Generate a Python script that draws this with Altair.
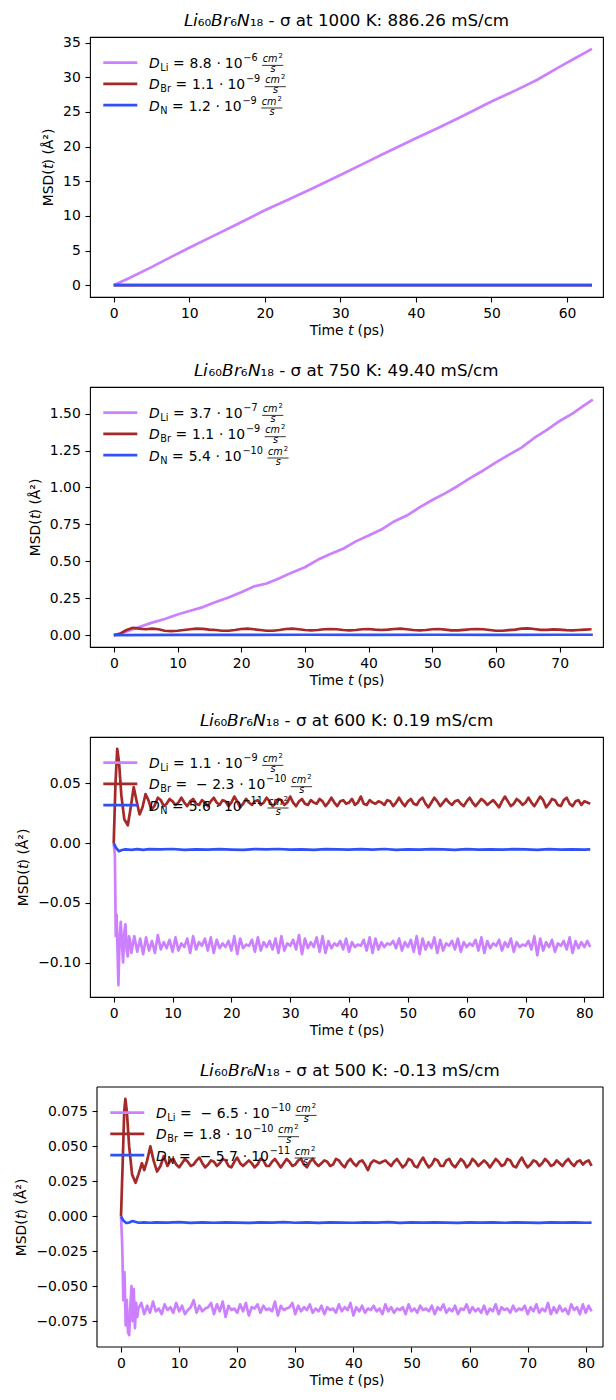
import altair as alt
import pandas as pd

FONT = "DejaVu Sans"
SPECIES = ["Li", "Br", "N"]
COLORS = {"Li": "#CC80FF", "Br": "#A62929", "N": "#3050F8"}
STEP = 0.5

# ---------------- Panel 1 : 1000 K ----------------
P1_TITLE = "𝘓𝘪₆₀𝘉𝘳₆𝘕₁₈ - σ at 1000 K: 886.26 mS/cm"
P1_T_LI = [0, 2, 5, 8, 10, 13, 16, 20, 23, 26, 30, 33, 36, 40, 43, 46, 50, 53, 56, 59, 61, 63.3]
P1_LI = [0, 1.0, 2.6, 4.3, 5.4, 7.0, 8.6, 10.8, 12.3, 13.8, 15.9, 17.5, 19.1, 21.2, 22.7, 24.3,
         26.5, 28.0, 29.6, 31.5, 32.7, 34.1]
P1_T_FLAT = [0, 10, 20, 30, 40, 50, 60, 63.3]
P1_BR = [0, 0.01, 0.01, 0.02, 0.01, 0.02, 0.02, 0.02]
P1_N = [0, 0.01, 0.01, 0.01, 0.01, 0.01, 0.02, 0.02]
P1_MANT = ["8.8", "1.1", "1.2"]
P1_EXP = ["−6", "−9", "−9"]

# ---------------- Panel 2 : 750 K ----------------
P2_TITLE = "𝘓𝘪₆₀𝘉𝘳₆𝘕₁₈ - σ at 750 K: 49.40 mS/cm"
P2_T_LI = [0, 2, 4, 6, 8, 10, 12, 14, 16, 18, 20, 22, 24, 26, 28, 30, 32, 34, 36, 38, 40, 42, 44,
           46, 48, 50, 52, 54, 56, 58, 60, 62, 64, 66, 68, 70, 72, 74, 75.2]
P2_LI = [0, 0.025, 0.055, 0.085, 0.11, 0.14, 0.165, 0.19, 0.225, 0.255, 0.29, 0.33, 0.35, 0.385,
         0.425, 0.46, 0.51, 0.55, 0.585, 0.635, 0.675, 0.715, 0.77, 0.81, 0.865, 0.915, 0.96, 1.01,
         1.065, 1.115, 1.17, 1.22, 1.27, 1.335, 1.39, 1.45, 1.5, 1.56, 1.595]
P2_BR_START = 0
P2_BR_STEP = 1
P2_BR = [0, 0.01, 0.035, 0.05, 0.045, 0.04, 0.045, 0.04, 0.03, 0.028,
         0.03, 0.035, 0.04, 0.045, 0.043, 0.038, 0.035, 0.03, 0.03, 0.035,
         0.042, 0.045, 0.04, 0.035, 0.03, 0.03, 0.035, 0.042, 0.045, 0.04,
         0.035, 0.033, 0.035, 0.04, 0.042, 0.04, 0.035, 0.033, 0.035, 0.04,
         0.042, 0.038, 0.035, 0.038, 0.042, 0.044, 0.04, 0.035, 0.033, 0.035,
         0.04, 0.042, 0.038, 0.033, 0.032, 0.036, 0.04, 0.042, 0.04, 0.035,
         0.03, 0.03, 0.034, 0.038, 0.044, 0.046, 0.042, 0.036, 0.036, 0.039,
         0.038, 0.034, 0.032, 0.035, 0.038, 0.04]
P2_T_N = [0, 10, 20, 30, 40, 50, 60, 70, 75.2]
P2_N = [0, 0.002, 0.002, 0.003, 0.002, 0.003, 0.002, 0.003, 0.003]
P2_MANT = ["3.7", "1.1", "5.4"]
P2_EXP = ["−7", "−9", "−10"]

# ---------------- Panel 3 : 600 K ----------------
P3_TITLE = "𝘓𝘪₆₀𝘉𝘳₆𝘕₁₈ - σ at 600 K: 0.19 mS/cm"
P3_LI_EARLY_T = [0, 0.2, 0.35, 0.5, 0.65, 0.8, 1.0, 1.2, 1.4, 1.6, 1.8, 2.0, 2.2, 2.4, 2.6, 2.8, 3.0]
P3_LI_EARLY = [0, -0.01, -0.078, -0.06, -0.09, -0.119, -0.08, -0.066, -0.085, -0.1, -0.075,
               -0.068, -0.09, -0.095, -0.078, -0.082, -0.092]
P3_LI_TAIL_START = 3.5
P3_LI_TAIL = [
    -0.078, -0.091, -0.08, -0.093, -0.079, -0.09, -0.082, -0.092, -0.077, -0.089,
    -0.083, -0.088, -0.081, -0.091, -0.079, -0.09, -0.084, -0.087, -0.08, -0.092,
    -0.078, -0.089, -0.083, -0.086, -0.08, -0.09, -0.079, -0.092, -0.081, -0.088,
    -0.084, -0.087, -0.082, -0.09, -0.078, -0.093, -0.08, -0.088, -0.085, -0.086,
    -0.081, -0.091, -0.079, -0.09, -0.083, -0.087, -0.082, -0.089, -0.08, -0.092,
    -0.078, -0.09, -0.084, -0.086, -0.081, -0.089, -0.077, -0.093, -0.08, -0.088,
    -0.083, -0.087, -0.079, -0.091, -0.078, -0.092, -0.082, -0.088, -0.084, -0.086,
    -0.082, -0.089, -0.08, -0.091, -0.083, -0.087, -0.085, -0.086, -0.081, -0.09,
    -0.079, -0.092, -0.08, -0.089, -0.083, -0.087, -0.084, -0.085, -0.082, -0.088,
    -0.08, -0.09, -0.083, -0.087, -0.081, -0.091, -0.078, -0.093, -0.08, -0.089,
    -0.083, -0.088, -0.079, -0.092, -0.081, -0.09, -0.084, -0.086, -0.082, -0.089,
    -0.08, -0.091, -0.083, -0.087, -0.084, -0.086, -0.081, -0.09, -0.079, -0.092,
    -0.082, -0.088, -0.084, -0.086, -0.081, -0.09, -0.083, -0.087, -0.08, -0.091,
    -0.083, -0.087, -0.085, -0.086, -0.082, -0.089, -0.078, -0.094, -0.08, -0.09,
    -0.083, -0.087, -0.081, -0.091, -0.084, -0.086, -0.082, -0.089, -0.079, -0.092,
    -0.082, -0.088, -0.083, -0.087, -0.082, -0.087]
P3_BR_EARLY_T = [0, 0.3, 0.6, 0.9, 1.3, 1.8, 2.4, 2.9, 3.4, 3.9, 4.4, 4.9, 5.4, 5.9, 6.4, 6.9]
P3_BR_EARLY = [0, 0.05, 0.079, 0.068, 0.04, 0.02, 0.015, 0.03, 0.047, 0.035, 0.024, 0.03,
               0.041, 0.036, 0.028, 0.031]
P3_BR_TAIL_START = 7.5
P3_BR_TAIL = [
    0.038, 0.036, 0.031, 0.033, 0.037, 0.035, 0.032, 0.034, 0.038, 0.034,
    0.031, 0.035, 0.037, 0.033, 0.032, 0.036, 0.034, 0.031, 0.035, 0.038,
    0.034, 0.032, 0.036, 0.035, 0.031, 0.034, 0.039, 0.035, 0.03, 0.033,
    0.037, 0.034, 0.032, 0.035, 0.036, 0.032, 0.034, 0.038, 0.035, 0.031,
    0.033, 0.037, 0.036, 0.032, 0.034, 0.039, 0.034, 0.031, 0.035, 0.037,
    0.033, 0.032, 0.036, 0.034, 0.033, 0.037, 0.035, 0.031, 0.034, 0.038,
    0.034, 0.031, 0.035, 0.036, 0.033, 0.034, 0.037, 0.032, 0.034, 0.039,
    0.033, 0.032, 0.036, 0.034, 0.033, 0.035, 0.034, 0.032, 0.036, 0.035,
    0.031, 0.034, 0.038, 0.034, 0.031, 0.035, 0.037, 0.033, 0.032, 0.036,
    0.038, 0.033, 0.03, 0.034, 0.038, 0.035, 0.031, 0.034, 0.037, 0.034,
    0.032, 0.035, 0.036, 0.033, 0.031, 0.035, 0.038, 0.034, 0.031, 0.034,
    0.037, 0.035, 0.032, 0.034, 0.036, 0.033, 0.03, 0.035, 0.039, 0.035,
    0.031, 0.033, 0.037, 0.035, 0.032, 0.034, 0.038, 0.034, 0.031, 0.035,
    0.039, 0.036, 0.03, 0.033, 0.037, 0.036, 0.032, 0.031, 0.036, 0.038,
    0.033, 0.031, 0.035, 0.036, 0.032, 0.035, 0.034, 0.033]
P3_T_N = [0, 0.4, 0.9, 1.4, 2, 3, 4, 5, 6, 8, 10, 12, 14, 16, 18, 20, 22, 24, 26, 28, 30, 32, 34,
          36, 38, 40, 42, 44, 46, 48, 50, 52, 54, 56, 58, 60, 62, 64, 66, 68, 70, 72, 74, 76, 78,
          80, 81]
P3_N = [0, -0.004, -0.0068, -0.0058, -0.0052, -0.0056, -0.005, -0.0057, -0.0051,
        -0.0053, -0.0049, -0.0056, -0.0052, -0.0055, -0.005, -0.0054, -0.0057, -0.0051, -0.0053,
        -0.0049, -0.0055, -0.0052, -0.0056, -0.005, -0.0053, -0.0055, -0.0051, -0.0054, -0.0049,
        -0.0056, -0.0052, -0.0054, -0.005, -0.0053, -0.0056, -0.0051, -0.0054, -0.0052, -0.0055,
        -0.005, -0.0053, -0.0056, -0.0051, -0.0054, -0.0052, -0.0055, -0.0053]
P3_MANT = ["1.1", "−2.3", "5.6"]
P3_EXP = ["−9", "−10", "−11"]

# ---------------- Panel 4 : 500 K ----------------
P4_TITLE = "𝘓𝘪₆₀𝘉𝘳₆𝘕₁₈ - σ at 500 K: -0.13 mS/cm"
P4_LI_EARLY_T = [0, 0.2, 0.4, 0.6, 0.8, 1.0, 1.2, 1.4, 1.6, 1.8, 2.0, 2.2, 2.4, 2.6, 2.8, 3.0]
P4_LI_EARLY = [0, -0.02, -0.06, -0.04, -0.078, -0.06, -0.083, -0.085, -0.065, -0.05, -0.075,
               -0.052, -0.08, -0.062, -0.072, -0.066]
P4_LI_TAIL_START = 3.5
P4_LI_TAIL = [
    -0.062, -0.07, -0.064, -0.069, -0.061, -0.068, -0.066, -0.07, -0.063, -0.067,
    -0.065, -0.069, -0.062, -0.068, -0.064, -0.07, -0.067, -0.065, -0.06, -0.069,
    -0.064, -0.068, -0.066, -0.065, -0.062, -0.07, -0.063, -0.068, -0.061, -0.072,
    -0.064, -0.067, -0.066, -0.069, -0.063, -0.068, -0.062, -0.071, -0.065, -0.066,
    -0.063, -0.069, -0.064, -0.067, -0.066, -0.068, -0.061, -0.071, -0.064, -0.067,
    -0.066, -0.065, -0.062, -0.07, -0.064, -0.068, -0.065, -0.067, -0.063, -0.069,
    -0.066, -0.068, -0.064, -0.07, -0.065, -0.067, -0.066, -0.069, -0.063, -0.068,
    -0.065, -0.067, -0.062, -0.071, -0.065, -0.068, -0.064, -0.069, -0.066, -0.067,
    -0.064, -0.068, -0.066, -0.07, -0.063, -0.068, -0.065, -0.069, -0.066, -0.067,
    -0.065, -0.07, -0.063, -0.068, -0.066, -0.069, -0.064, -0.067, -0.066, -0.068,
    -0.064, -0.07, -0.065, -0.067, -0.063, -0.069, -0.066, -0.068, -0.064, -0.07,
    -0.066, -0.067, -0.063, -0.069, -0.065, -0.068, -0.066, -0.069, -0.064, -0.07,
    -0.066, -0.068, -0.063, -0.07, -0.065, -0.067, -0.066, -0.069, -0.064, -0.068,
    -0.066, -0.067, -0.064, -0.07, -0.065, -0.068, -0.063, -0.069, -0.066, -0.068,
    -0.062, -0.07, -0.065, -0.069, -0.064, -0.068, -0.066, -0.07, -0.063, -0.067,
    -0.065, -0.07, -0.063, -0.069, -0.064, -0.068]
P4_BR_EARLY_T = [0, 0.3, 0.55, 0.75, 1.0, 1.4, 1.9, 2.5, 3.0, 3.6, 4.0, 4.5, 5.05, 5.6, 6.2, 6.8, 7.35]
P4_BR_EARLY = [0, 0.04, 0.075, 0.084, 0.075, 0.05, 0.03, 0.024, 0.03, 0.038, 0.033, 0.04, 0.05,
               0.04, 0.032, 0.036, 0.043]
P4_BR_TAIL_START = 8.0
P4_BR_TAIL = [
    0.036, 0.04, 0.041, 0.037, 0.035, 0.038, 0.041, 0.039, 0.036, 0.037,
    0.04, 0.042, 0.038, 0.035, 0.037, 0.04, 0.039, 0.036, 0.038, 0.041,
    0.04, 0.036, 0.035, 0.039, 0.042, 0.038, 0.036, 0.038, 0.04, 0.038,
    0.035, 0.037, 0.041, 0.04, 0.036, 0.036, 0.039, 0.041, 0.038, 0.035,
    0.038, 0.041, 0.039, 0.036, 0.037, 0.04, 0.041, 0.037, 0.035, 0.039,
    0.041, 0.038, 0.036, 0.038, 0.04, 0.039, 0.036, 0.037, 0.041, 0.04,
    0.037, 0.035, 0.039, 0.041, 0.038, 0.036, 0.039, 0.04, 0.037, 0.033,
    0.038, 0.04, 0.039, 0.038, 0.039, 0.04, 0.038, 0.036, 0.039, 0.041,
    0.038, 0.035, 0.037, 0.041, 0.04, 0.036, 0.035, 0.039, 0.042, 0.038,
    0.035, 0.037, 0.041, 0.04, 0.036, 0.036, 0.04, 0.041, 0.037, 0.035,
    0.038, 0.041, 0.039, 0.035, 0.037, 0.041, 0.039, 0.036, 0.038, 0.04,
    0.038, 0.035, 0.038, 0.041, 0.039, 0.036, 0.037, 0.041, 0.04, 0.036,
    0.035, 0.039, 0.042, 0.038, 0.035, 0.037, 0.04, 0.039, 0.036, 0.038,
    0.041, 0.039, 0.036, 0.037, 0.04, 0.038, 0.036, 0.039, 0.041, 0.038,
    0.036, 0.039, 0.04, 0.037, 0.039, 0.04, 0.036]
P4_T_N = [0, 0.4, 0.9, 1.4, 2, 3, 4, 5, 6, 8, 10, 12, 14, 16, 18, 20, 22, 24, 26, 28, 30, 32, 34,
          36, 38, 40, 42, 44, 46, 48, 50, 52, 54, 56, 58, 60, 62, 64, 66, 68, 70, 72, 74, 76, 78,
          80, 81]
P4_N = [0, -0.003, -0.0048, -0.0045, -0.0034, -0.0046, -0.0043, -0.0046, -0.0044,
        -0.0045, -0.0042, -0.0047, -0.0044, -0.0046, -0.0043, -0.0045, -0.0047, -0.0044, -0.0045,
        -0.0042, -0.0046, -0.0044, -0.0047, -0.0043, -0.0045, -0.0046, -0.0044, -0.0045, -0.0042,
        -0.0047, -0.0044, -0.0045, -0.0043, -0.0045, -0.0047, -0.0044, -0.0045, -0.0044, -0.0046,
        -0.0043, -0.0045, -0.0047, -0.0044, -0.0045, -0.0044, -0.0046, -0.0045]
P4_MANT = ["−6.5", "1.8", "−5.7"]
P4_EXP = ["−10", "−10", "−11"]

# ---------------- helpers ----------------
W = 513
H = 260
FS, FSS, FS2 = 13.9, 9.7, 6.8
ADV = {"0": .6362, "1": .6362, "2": .6362, "3": .6362, "4": .6362, "5": .6362, "6": .6362,
       "7": .6362, "8": .6362, "9": .6362, ".": .3179, "=": .8379, "−": .8379, "D": .77,
       "L": .5571, "i": .2778, "B": .686, "r": .4111, "N": .748, "c": .5498, "m": .9741,
       "s": .521, "·": .3179}


def tw(s, fs):
    return sum(ADV.get(ch, 0.6) for ch in s) * fs


def grid(start, step, vals):
    return [round(start + step * i, 3) for i in range(len(vals))]


def series_df(series):
    rows = []
    for sp, (ts, vs) in series.items():
        for t, v in zip(ts, vs):
            rows.append({"sp": sp, "t": t, "msd": v})
    return pd.DataFrame(rows)


def legend_frames(mants, exps, shift):
    texts, rules = [], []
    for i, sp in enumerate(SPECIES):
        ry = 25.6 + 21.3 * i
        rules.append(dict(x1=13.3 + shift, x2=47.3 + shift, y=ry, col=COLORS[sp], w=2.7))
        x = 59 + shift
        base = ry + 5.5
        texts.append(dict(px=x, py=base, txt="D", fs=FS, it=1))
        x += tw("D", FS) + 0.6
        texts.append(dict(px=x, py=ry + 8.5, txt=sp, fs=FSS, it=0))
        x += tw(sp, FSS) + 4.5
        texts.append(dict(px=x, py=base, txt="=", fs=FS, it=0))
        x += tw("=", FS)
        m = mants[i]
        if m.startswith("−"):
            x += 9
            texts.append(dict(px=x, py=base, txt="−", fs=FS, it=0))
            x += tw("−", FS) + 4.5
            m = m[1:]
        else:
            x += 5
        texts.append(dict(px=x, py=base, txt=m, fs=FS, it=0))
        x += tw(m, FS)
        texts.append(dict(px=x + 4.8, py=base, txt="·", fs=FS, it=0))
        x += 13.2
        texts.append(dict(px=x, py=base, txt="10", fs=FS, it=0))
        x += tw("10", FS) + 0.8
        texts.append(dict(px=x, py=ry - 1.5, txt=exps[i], fs=FSS, it=0))
        x += tw(exps[i], FSS) + 5
        texts.append(dict(px=x, py=ry - 0.5, txt="cm", fs=FSS, it=1))
        texts.append(dict(px=x + tw("cm", FSS) + 1.0, py=ry - 4.5, txt="2", fs=FS2, it=0))
        fw = tw("cm", FSS) + tw("2", FS2) + 1.5
        rules.append(dict(x1=x - 0.5, x2=x + fw, y=ry + 2.8, col="black", w=0.8))
        texts.append(dict(px=x + fw / 2 - tw("s", FSS) / 2, py=ry + 9.3, txt="s", fs=FSS, it=1))
    return pd.DataFrame(texts), pd.DataFrame(rules)


def panel(title, series, xdom, ydom, xticks, yticks, yfmt, mants, exps, shift=0, yoff=0,
          manual_frame=False):
    df = series_df(series)
    x = alt.X("t:Q", scale=alt.Scale(domain=xdom, nice=False, zero=False),
              axis=alt.Axis(values=xticks, format="d", title="Time 𝘵 (ps)"))
    y = alt.Y("msd:Q", scale=alt.Scale(domain=ydom, nice=False, zero=False),
              axis=alt.Axis(values=yticks, format=yfmt, title="MSD(𝘵) (Å²)", offset=yoff))
    layers = []
    for sp in SPECIES:
        layers.append(
            alt.Chart(df).transform_filter(alt.datum.sp == sp)
            .mark_line(color=COLORS[sp], strokeWidth=2.7, clip=True, strokeJoin="round")
            .encode(x=x, y=y)
        )
    tdf, rdf = legend_frames(mants, exps, shift)
    layers.append(
        alt.Chart(rdf).mark_rule().encode(
            x=alt.X("x1:Q", scale=None), x2="x2:Q", y=alt.Y("y:Q", scale=None),
            color=alt.Color("col:N", scale=None), strokeWidth=alt.StrokeWidth("w:Q", scale=None))
    )
    for it, style in [(0, "normal"), (1, "italic")]:
        layers.append(
            alt.Chart(tdf).transform_filter(alt.datum.it == it)
            .mark_text(font=FONT, align="left", baseline="alphabetic", color="black",
                       fontStyle=style)
            .encode(x=alt.X("px:Q", scale=None), y=alt.Y("py:Q", scale=None), text="txt:N",
                    size=alt.Size("fs:Q", scale=None))
        )
    # panel title drawn as a text mark above the plot area
    layers.append(
        alt.Chart(pd.DataFrame({"k": [0]}))
        .mark_text(text=title, font=FONT, fontSize=16.7, align="center", baseline="middle",
                   color="black")
        .encode(x=alt.value((W + shift) / 2), y=alt.value(-16))
    )
    props = dict(width=W, height=H)
    if manual_frame:
        fx = shift
        for enc in [dict(x=alt.value(fx), y=alt.value(0), y2=alt.value(H)),
                    dict(x=alt.value(fx), x2=alt.value(W), y=alt.value(0)),
                    dict(x=alt.value(fx), x2=alt.value(W), y=alt.value(H)),
                    dict(x=alt.value(W), y=alt.value(0), y2=alt.value(H))]:
            layers.append(alt.Chart(pd.DataFrame({"k": [0]}))
                          .mark_rule(color="black", strokeWidth=1.1).encode(**enc))
        props["view"] = alt.ViewBackground(stroke="transparent")
    return alt.layer(*layers).properties(**props)


p1 = panel(P1_TITLE,
           {"Li": (P1_T_LI, P1_LI), "Br": (P1_T_FLAT, P1_BR), "N": (P1_T_FLAT, P1_N)},
           [-3.14, 64.76], [-1.705, 35.805], [0, 10, 20, 30, 40, 50, 60],
           [0, 5, 10, 15, 20, 25, 30, 35], "d", P1_MANT, P1_EXP)
p2 = panel(P2_TITLE,
           {"Li": (P2_T_LI, P2_LI), "Br": (grid(P2_BR_START, P2_BR_STEP, P2_BR), P2_BR),
            "N": (P2_T_N, P2_N)},
           [-3.74, 76.8], [-0.08, 1.68], [0, 10, 20, 30, 40, 50, 60, 70],
           [0, 0.25, 0.5, 0.75, 1.0, 1.25, 1.5], ".2f", P2_MANT, P2_EXP)
p3 = panel(P3_TITLE,
           {"Li": (P3_LI_EARLY_T + grid(P3_LI_TAIL_START, STEP, P3_LI_TAIL),
                   P3_LI_EARLY + P3_LI_TAIL),
            "Br": (P3_BR_EARLY_T + grid(P3_BR_TAIL_START, STEP, P3_BR_TAIL),
                   P3_BR_EARLY + P3_BR_TAIL),
            "N": (P3_T_N, P3_N)},
           [-4.03, 83.17], [-0.1289, 0.0889], [0, 10, 20, 30, 40, 50, 60, 70, 80],
           [-0.1, -0.05, 0, 0.05], ".2f", P3_MANT, P3_EXP)
p4 = panel(P4_TITLE,
           {"Li": (P4_LI_EARLY_T + grid(P4_LI_TAIL_START, STEP, P4_LI_TAIL),
                   P4_LI_EARLY + P4_LI_TAIL),
            "Br": (P4_BR_EARLY_T + grid(P4_BR_TAIL_START, STEP, P4_BR_TAIL),
                   P4_BR_EARLY + P4_BR_TAIL),
            "N": (P4_T_N, P4_N)},
           [-5.34, 82.97], [-0.0935, 0.0925], [0, 10, 20, 30, 40, 50, 60, 70, 80],
           [-0.075, -0.05, -0.025, 0, 0.025, 0.05, 0.075], ".3f", P4_MANT, P4_EXP,
           shift=7, yoff=-7, manual_frame=True)

chart = (
    alt.vconcat(p1, p2, p3, p4, spacing=23)
    .properties(padding={"left": 6, "top": 4, "right": 0, "bottom": 0})
    .configure_view(stroke="black", strokeWidth=1.1)
    .configure_axis(labelFont=FONT, labelFontSize=13.9, labelColor="black", titleFont=FONT,
                    titleFontSize=13.9, titleFontWeight="normal", titleColor="black",
                    tickColor="black", tickSize=5, tickWidth=1.1, domain=False, grid=False,
                    labelPadding=4.7)
    .configure_axisX(titlePadding=3)
    .configure_axisY(titlePadding=7)
)

chart.save("out.html", embed_options={"renderer": "svg", "actions": False})
